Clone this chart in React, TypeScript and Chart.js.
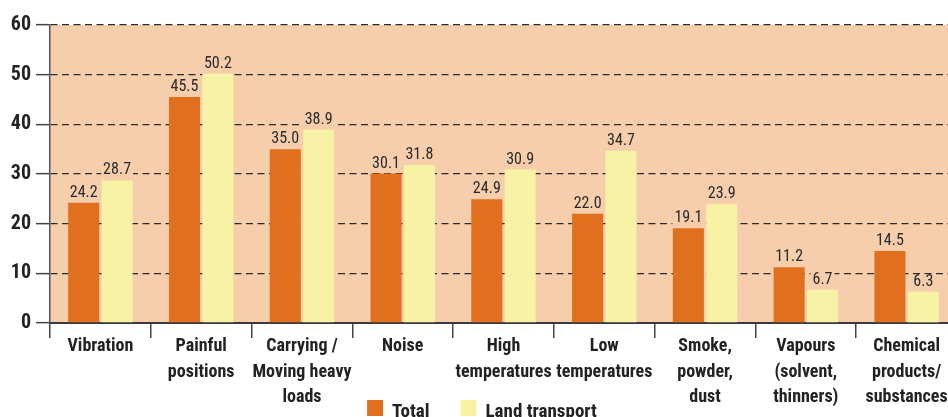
import React, { useEffect, useRef } from "react";
import { Chart, registerables } from "chart.js";

Chart.register(...registerables);

const categories: string[][] = [
  ["Vibration"],
  ["Painful", "positions"],
  ["Carrying /", "Moving heavy", "loads"],
  ["Noise"],
  ["High", "temperatures"],
  ["Low", "temperatures"],
  ["Smoke,", "powder,", "dust"],
  ["Vapours", "(solvent,", "thinners)"],
  ["Chemical", "products/", "substances"],
];
const totalValues = [24.2, 45.5, 35.0, 30.1, 24.9, 22.0, 19.1, 11.2, 14.5];
const landTransportValues = [28.7, 50.2, 38.9, 31.8, 30.9, 34.7, 23.9, 6.7, 6.3];
const seriesNames = ["Total", "Land transport"];

const FONT = "'Roboto Condensed', 'Liberation Sans Narrow', 'DejaVu Sans Condensed', sans-serif";
const PEACH = "#F6CEAB";
const ORANGE = "#E06F1E";
const YELLOW = "#F8F3A4";

const bgPlugin = {
  id: "plotBg",
  beforeDraw(chart: any) {
    const { ctx, chartArea } = chart;
    ctx.save();
    ctx.fillStyle = PEACH;
    ctx.fillRect(chartArea.left, chartArea.top, chartArea.right - chartArea.left, chartArea.bottom - chartArea.top);
    ctx.restore();
  },
};

const valueLabelPlugin = {
  id: "valueLabels",
  afterDatasetsDraw(chart: any) {
    const { ctx } = chart;
    ctx.save();
    ctx.font = `16px ${FONT}`;
    ctx.textAlign = "center";
    ctx.textBaseline = "bottom";
    chart.data.datasets.forEach((ds: any, di: number) => {
      const meta = chart.getDatasetMeta(di);
      meta.data.forEach((bar: any, i: number) => {
        const txt = Number(ds.data[i]).toFixed(1);
        const w = ctx.measureText(txt).width;
        const yb = bar.y - 3;
        ctx.fillStyle = PEACH;
        ctx.fillRect(bar.x - w / 2 - 2, yb - 14, w + 4, 14);
        ctx.fillStyle = "#2a2a2a";
        ctx.fillText(txt, bar.x, yb + 1);
      });
    });
    ctx.restore();
  },
};

// Legend drawn at the bottom, overlapping the label band like the original
const legendPlugin = {
  id: "bottomLegend",
  afterDraw(chart: any) {
    const { ctx } = chart;
    const box = 16;
    const gapText = 9;
    const gapItem = 31;
    ctx.save();
    ctx.font = `bold 19px ${FONT}`;
    ctx.textBaseline = "alphabetic";
    ctx.textAlign = "left";
    const items = chart.data.datasets.map((ds: any) => ({
      label: ds.label,
      color: ds.backgroundColor,
      w: ctx.measureText(ds.label).width,
    }));
    const total = items.reduce((s: number, it: any) => s + box + gapText + it.w, 0) + gapItem * (items.length - 1);
    const center = 482;
    let x = center - total / 2;
    const top = 400;
    items.forEach((it: any) => {
      ctx.fillStyle = it.color;
      ctx.fillRect(x, top, box, box);
      ctx.fillStyle = "#222";
      ctx.fillText(it.label, x + box + gapText, top + 17);
      x += box + gapText + it.w + gapItem;
    });
    ctx.restore();
  },
};

export default function App() {
  const ref = useRef<HTMLCanvasElement>(null);
  useEffect(() => {
    if (!ref.current) return;
    const chart = new Chart(ref.current, {
      type: "bar",
      data: {
        labels: categories,
        datasets: [
          {
            label: seriesNames[0],
            data: totalValues,
            backgroundColor: ORANGE,
            borderWidth: 0,
            categoryPercentage: 0.662,
            barPercentage: 0.93,
          },
          {
            label: seriesNames[1],
            data: landTransportValues,
            backgroundColor: YELLOW,
            borderWidth: 0,
            categoryPercentage: 0.662,
            barPercentage: 0.93,
          },
        ],
      },
      options: {
        responsive: false,
        animation: false,
        layout: { padding: { left: 0, top: 25, right: 3, bottom: 0 } },
        plugins: {
          legend: { display: false },
          tooltip: { enabled: false },
        },
        scales: {
          x: {
            afterFit: (s: any) => {
              s.height = 105;
            },
            grid: {
              display: true,
              drawOnChartArea: false,
              drawTicks: true,
              tickLength: 15,
              color: "#444",
              lineWidth: 1.5,
              offset: true,
            },
            border: { display: true, color: "#3a3a3a", width: 2 },
            ticks: {
              autoSkip: false,
              maxRotation: 0,
              minRotation: 0,
              padding: -4,
              color: "#222",
              font: { family: FONT, size: 18, weight: "bold", lineHeight: 1.42 },
            },
          },
          y: {
            min: 0,
            max: 60,
            afterFit: (s: any) => {
              s.width = 50;
            },
            ticks: {
              stepSize: 10,
              padding: 5,
              color: "#222",
              font: { family: FONT, size: 20, weight: "bold" },
            },
            grid: {
              color: "#2b2b2b",
              lineWidth: 1.3,
              tickLength: 14,
              tickColor: "#444",
              tickWidth: 1.5,
              tickBorderDash: [],
            },
            border: { display: true, color: "#555", width: 1.5, dash: [7, 4.5] },
          },
        },
      },
      plugins: [bgPlugin, valueLabelPlugin, legendPlugin],
    });
    return () => chart.destroy();
  }, []);
  return (
    <div
      style={{
        position: "fixed",
        left: 0,
        top: 0,
        width: 948,
        height: 417,
        overflow: "hidden",
        background: "#fff",
      }}
    >
      <canvas ref={ref} width={960} height={428} style={{ width: 960, height: 428, display: "block" }} />
    </div>
  );
}
